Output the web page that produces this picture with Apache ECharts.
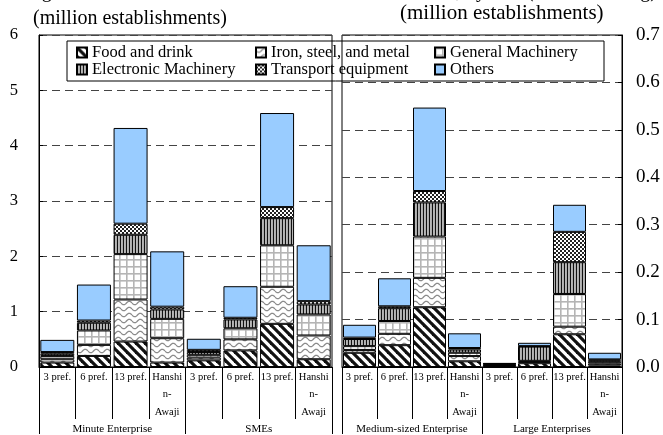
<!DOCTYPE html>
<html>
<head>
<meta charset="utf-8">
<script src="https://cdn.jsdelivr.net/npm/echarts@6/dist/echarts.min.js"></script>
<style>
html, body { margin: 0; padding: 0; background: #fff; }
#main { width: 663px; height: 435px; }
</style>
</head>
<body>
<div id="main"></div>
<script>
// categories
var regions = ['3 pref.', '6 pref.', '13 pref.', 'Hanshin-Awaji', '3 pref.', '6 pref.', '13 pref.', 'Hanshin-Awaji'];
var leftGroups = ['Minute Enterprise', 'SMEs'];
var rightGroups = ['Medium-sized Enterprise', 'Large Enterprises'];
var industries = ['Food and drink', 'Iron, steel, and metal', 'General Machinery', 'Electronic Machinery', 'Transport equipment', 'Others'];

// left chart: minute enterprises + SMEs (million establishments)
var foodL   = [0.08, 0.20, 0.46, 0.08, 0.12, 0.30, 0.78, 0.14];
var ironL   = [0.06, 0.20, 0.76, 0.44, 0.05, 0.20, 0.67, 0.43];
var genL    = [0.06, 0.26, 0.82, 0.35, 0.05, 0.20, 0.75, 0.38];
var elecL   = [0.04, 0.14, 0.35, 0.17, 0.05, 0.16, 0.49, 0.18];
var transL  = [0.03, 0.04, 0.20, 0.05, 0.04, 0.03, 0.20, 0.06];
var othersL = [0.22, 0.65, 1.73, 1.00, 0.20, 0.57, 1.70, 1.01];

// right chart: medium-sized + large enterprises (million establishments)
var foodR   = [0.030, 0.046, 0.126, 0.012, 0.002, 0.008, 0.069, 0.003];
var ironR   = [0.006, 0.024, 0.062, 0.011, 0.001, 0.003, 0.016, 0.004];
var genR    = [0.008, 0.027, 0.087, 0.007, 0.001, 0.002, 0.069, 0.004];
var elecR   = [0.015, 0.027, 0.072, 0.007, 0.002, 0.030, 0.067, 0.003];
var transR  = [0.003, 0.004, 0.024, 0.003, 0.001, 0.001, 0.064, 0.002];
var othersR = [0.027, 0.059, 0.176, 0.031, 0.001, 0.007, 0.057, 0.014];

var leftTicks = [0, 1, 2, 3, 4, 5, 6];
var rightTicks = [0, 0.1, 0.2, 0.3, 0.4, 0.5, 0.6, 0.7];

var serif = 'Liberation Serif';

// 填充图案
function pat(w, h, draw) {
  var c = document.createElement('canvas');
  c.width = w; c.height = h;
  var g = c.getContext('2d');
  g.fillStyle = '#fff';
  g.fillRect(0, 0, w, h);
  draw(g, w, h);
  return { image: c, repeat: 'repeat' };
}
var fills = [
  pat(9, 9, function (g) { // diagonal stripes
    g.strokeStyle = '#111'; g.lineWidth = 3.2;
    [-9, 0, 9].forEach(function (k) {
      g.beginPath(); g.moveTo(k - 3, -3); g.lineTo(k + 12, 12); g.stroke();
    });
  }),
  pat(11, 6, function (g) { // waves
    g.strokeStyle = '#8a8a8a'; g.lineWidth = 1.3;
    g.beginPath();
    for (var x = 0; x <= 11; x += 0.5) {
      var y = 3 + 1.7 * Math.sin(2 * Math.PI * x / 11);
      x === 0 ? g.moveTo(x, y) : g.lineTo(x, y);
    }
    g.stroke();
  }),
  pat(7, 7, function (g) { // grid
    g.fillStyle = '#b5b5b5';
    g.fillRect(0, 0, 7, 1.6); g.fillRect(0, 0, 1.6, 7);
  }),
  pat(3, 4, function (g) { // vertical lines
    g.fillStyle = '#111'; g.fillRect(0, 0, 1.3, 4);
    g.fillStyle = '#888'; g.fillRect(2.3, 0, 0.7, 4);
  }),
  pat(4, 4, function (g) { // checks
    g.fillStyle = '#222'; g.fillRect(0, 0, 4, 4);
    g.fillStyle = '#fff'; g.fillRect(0, 0, 2, 2); g.fillRect(2, 2, 2, 2);
  }),
  '#99CCFF'
];

var leftData = [foodL, ironL, genL, elecL, transL, othersL];
var rightData = [foodR, ironR, genR, elecR, transR, othersR];

function catLabel(v) {
  return v === 'Hanshin-Awaji' ? 'Hanshi\nn-\nAwaji' : v;
}

function innerAxis(gi) {
  return {
    gridIndex: gi, type: 'category', position: 'bottom',
    data: regions,
    axisLine: { lineStyle: { color: '#000' } },
    axisTick: { show: true, interval: 0, length: 52, lineStyle: { color: '#000' } },
    axisLabel: { interval: 0, margin: 1, color: '#000', fontFamily: serif, fontSize: 10.5, lineHeight: 17.5, formatter: catLabel },
    splitLine: { show: false }
  };
}
function groupAxis(gi, groups) {
  return {
    gridIndex: gi, type: 'category', position: 'bottom',
    data: groups,
    axisLine: { show: false },
    axisTick: { show: true, interval: 0, length: 67, lineStyle: { color: '#000' } },
    axisLabel: { interval: 0, margin: 57, color: '#000', fontFamily: serif, fontSize: 11 },
    splitLine: { show: false }
  };
}

var series = [];
industries.forEach(function (name, i) {
  series.push({
    name: name, type: 'bar', stack: 'left',
    xAxisIndex: 0, yAxisIndex: 0, barWidth: 34,
    itemStyle: { color: fills[i], borderColor: '#000', borderWidth: 1 },
    data: leftData[i]
  });
});
industries.forEach(function (name, i) {
  series.push({
    name: name, type: 'bar', stack: 'right',
    xAxisIndex: 2, yAxisIndex: 1, barWidth: 33,
    itemStyle: { color: fills[i], borderColor: '#000', borderWidth: 1 },
    data: rightData[i]
  });
});

var legendData = industries.map(function (n, i) {
  return { name: n, icon: 'rect', textStyle: { width: i % 3 === 2 ? 150 : 163 } };
});

var option = {
  animation: false,
  title: [
    { text: 'Figure 2-1-10 Trends in the number of establishments, by size (manufacturing)', right: 6, top: -18, padding: 0,
      textStyle: { fontFamily: serif, fontSize: 20, fontWeight: 'normal', color: '#000' } },
    { text: '(million establishments)', left: 33, top: 9, padding: 0,
      textStyle: { fontFamily: serif, fontSize: 20, fontWeight: 'normal', color: '#000' } },
    { text: '(million establishments)', left: 400, top: 3, padding: 0,
      textStyle: { fontFamily: serif, fontSize: 21, fontWeight: 'normal', color: '#000' } }
  ],
  legend: {
    data: legendData, left: 67, top: 41, width: 530,
    itemWidth: 10, itemHeight: 10, itemGap: 0,
    padding: [3, 4, 3, 9],
    borderColor: '#000', borderWidth: 1,
    selectedMode: false,
    textStyle: { fontFamily: serif, fontSize: 16.5, color: '#000', lineHeight: 15.6 }
  },
  grid: [
    { left: 39, top: 35, width: 293, height: 333, show: true, borderColor: '#000', borderWidth: 1 },
    { left: 342, top: 35, width: 280, height: 332, show: true, borderColor: '#000', borderWidth: 1 }
  ],
  xAxis: [innerAxis(0), groupAxis(0, leftGroups), innerAxis(1), groupAxis(1, rightGroups)],
  yAxis: [
    { gridIndex: 0, type: 'value', min: leftTicks[0], max: leftTicks[leftTicks.length - 1], interval: 1,
      axisLine: { show: true, lineStyle: { color: '#000' } },
      axisTick: { show: true, inside: true, length: 4, lineStyle: { color: '#000' } },
      axisLabel: { color: '#000', fontFamily: serif, fontSize: 16.5, margin: 21 },
      splitLine: { lineStyle: { color: '#444', type: [8, 5] } } },
    { gridIndex: 1, type: 'value', position: 'right', min: rightTicks[0], max: rightTicks[rightTicks.length - 1], interval: 0.1,
      axisLine: { show: true, lineStyle: { color: '#000' } },
      axisTick: { show: true, inside: true, length: 4, lineStyle: { color: '#000' } },
      axisLabel: { color: '#000', fontFamily: serif, fontSize: 19, margin: 14,
        formatter: function (v) { return v.toFixed(1); } },
      splitLine: { lineStyle: { color: '#444', type: [8, 5] } } }
  ],
  series: series
};

var myChart = echarts.init(document.getElementById('main'));
myChart.setOption(option);
</script>
</body>
</html>
